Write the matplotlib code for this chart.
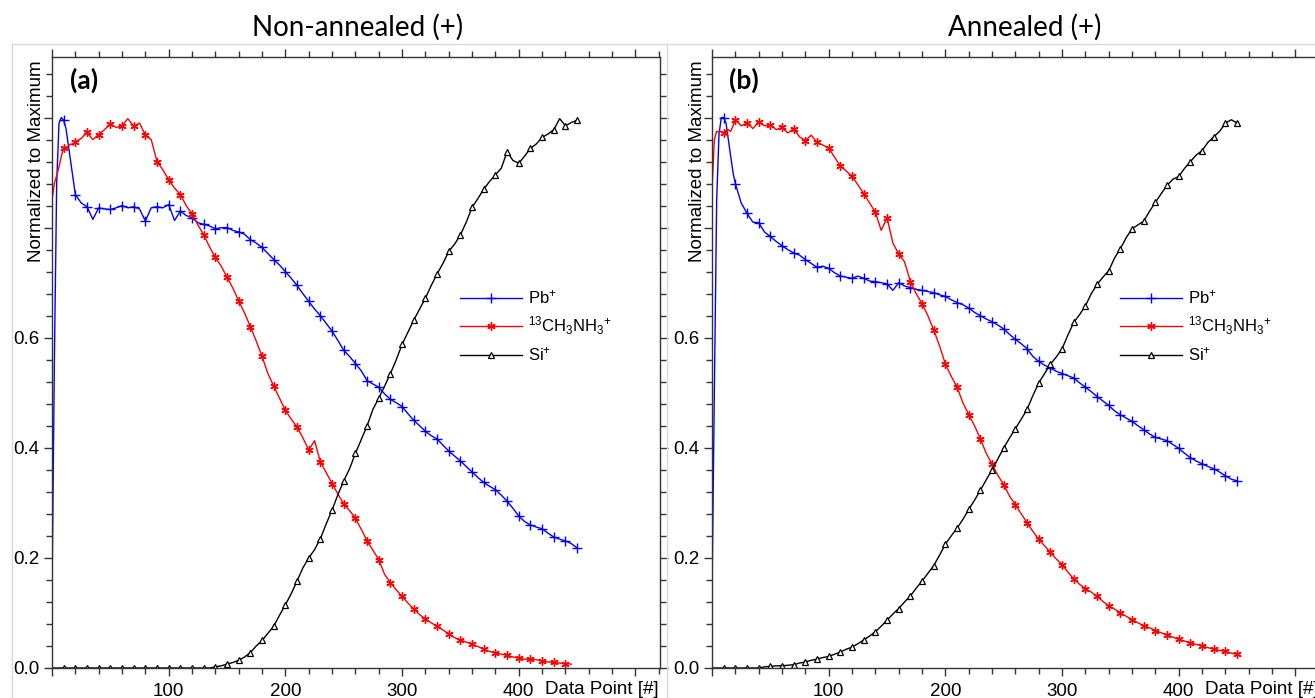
import numpy as np
import matplotlib
matplotlib.use('Agg')
import matplotlib.pyplot as plt
from matplotlib.ticker import MultipleLocator, FuncFormatter
from matplotlib.lines import Line2D

plt.rcParams['font.family'] = ['Liberation Sans', 'DejaVu Sans']
plt.rcParams['mathtext.fontset'] = 'custom'
plt.rcParams['mathtext.rm'] = 'Liberation Sans'
plt.rcParams['mathtext.it'] = 'Liberation Sans:italic'

# data point grid (shared by all series)
data_point = list(range(0, 21, 2)) + list(range(25, 451, 5))

# ---- (a) Non-annealed ----
pb_a = [0.13, 0.55, 0.88, 0.99, 1.0, 0.995, 0.98, 0.95, 0.92, 0.89, 0.86,
        0.845, 0.838, 0.815, 0.836, 0.834, 0.833, 0.836, 0.84, 0.836, 0.838,
        0.834, 0.812, 0.836, 0.838, 0.836, 0.842, 0.813, 0.83, 0.822, 0.818,
        0.809, 0.806, 0.803, 0.798, 0.80, 0.80, 0.795, 0.792, 0.788, 0.778,
        0.772, 0.764, 0.753, 0.742, 0.732, 0.72, 0.708, 0.695, 0.68, 0.666,
        0.652, 0.64, 0.626, 0.612, 0.595, 0.577, 0.566, 0.553, 0.54, 0.522,
        0.516, 0.51, 0.498, 0.488, 0.482, 0.475, 0.462, 0.45, 0.44, 0.43,
        0.422, 0.416, 0.405, 0.394, 0.385, 0.376, 0.366, 0.356, 0.346, 0.337,
        0.33, 0.324, 0.314, 0.303, 0.29, 0.276, 0.266, 0.26, 0.256, 0.253,
        0.245, 0.238, 0.234, 0.231, 0.226, 0.218]
ma_a = [0.85, 0.88, 0.895, 0.91, 0.93, 0.945, 0.942, 0.948, 0.952, 0.95, 0.956,
        0.962, 0.973, 0.96, 0.969, 0.978, 0.988, 0.982, 0.985, 0.998, 0.984,
        0.99, 0.968, 0.96, 0.92, 0.905, 0.887, 0.872, 0.86, 0.84, 0.825,
        0.805, 0.787, 0.765, 0.746, 0.73, 0.71, 0.69, 0.667, 0.645, 0.62,
        0.594, 0.566, 0.535, 0.512, 0.49, 0.468, 0.452, 0.438, 0.418, 0.396,
        0.413, 0.374, 0.355, 0.335, 0.316, 0.298, 0.286, 0.272, 0.252, 0.231,
        0.214, 0.197, 0.17, 0.155, 0.142, 0.13, 0.118, 0.107, 0.097, 0.089,
        0.082, 0.076, 0.069, 0.062, 0.055, 0.051, 0.047, 0.043, 0.039, 0.034,
        0.03, 0.028, 0.025, 0.023, 0.02, 0.018, 0.016, 0.016, 0.015, 0.013,
        0.011, 0.01, 0.009, 0.008, 0.007, np.nan]
si_a = [0.0] * 34 + [
        0.002, 0.004, 0.007, 0.01, 0.014, 0.02, 0.028, 0.04, 0.05, 0.063,
        0.076, 0.096, 0.115, 0.135, 0.158, 0.182, 0.2, 0.215, 0.235, 0.262,
        0.287, 0.315, 0.34, 0.362, 0.39, 0.415, 0.44, 0.47, 0.49, 0.512,
        0.535, 0.56, 0.588, 0.61, 0.632, 0.652, 0.672, 0.695, 0.716, 0.735,
        0.757, 0.77, 0.787, 0.81, 0.837, 0.853, 0.87, 0.884, 0.896, 0.908,
        0.938, 0.922, 0.917, 0.93, 0.944, 0.952, 0.964, 0.97, 0.978, 0.998,
        0.985, 0.991, 0.995]

# ---- (b) Annealed ----
pb_b = [0.13, 0.5, 0.85, 0.97, 1.0, 1.0, 0.99, 0.96, 0.93, 0.9, 0.88,
        0.845, 0.826, 0.81, 0.809, 0.792, 0.784, 0.775, 0.767, 0.76, 0.754,
        0.75, 0.742, 0.735, 0.728, 0.73, 0.726, 0.718, 0.712, 0.71, 0.708,
        0.712, 0.708, 0.703, 0.702, 0.70, 0.698, 0.686, 0.70, 0.694, 0.691,
        0.688, 0.686, 0.684, 0.682, 0.678, 0.675, 0.669, 0.664, 0.66, 0.654,
        0.646, 0.64, 0.634, 0.629, 0.623, 0.616, 0.606, 0.597, 0.589, 0.58,
        0.566, 0.557, 0.55, 0.545, 0.539, 0.535, 0.531, 0.527, 0.518, 0.51,
        0.502, 0.493, 0.485, 0.477, 0.467, 0.46, 0.454, 0.448, 0.44, 0.433,
        0.425, 0.419, 0.416, 0.413, 0.406, 0.399, 0.39, 0.382, 0.376, 0.371,
        0.366, 0.362, 0.356, 0.349, 0.343, 0.34]
ma_b = [0.87, 0.96, 0.975, 0.974, 0.975, 0.972, 0.976, 0.978, 0.975, 0.985, 0.996,
        0.985, 0.99, 0.98, 0.992, 0.985, 0.987, 0.978, 0.982, 0.972, 0.98,
        0.965, 0.958, 0.968, 0.955, 0.95, 0.945, 0.928, 0.912, 0.903, 0.893,
        0.878, 0.862, 0.845, 0.828, 0.795, 0.818, 0.772, 0.752, 0.738, 0.702,
        0.68, 0.662, 0.64, 0.614, 0.585, 0.552, 0.53, 0.51, 0.482, 0.46,
        0.44, 0.416, 0.39, 0.37, 0.35, 0.333, 0.312, 0.297, 0.28, 0.264,
        0.248, 0.234, 0.222, 0.21, 0.198, 0.188, 0.174, 0.162, 0.152, 0.144,
        0.138, 0.13, 0.121, 0.113, 0.107, 0.1, 0.094, 0.088, 0.082, 0.077,
        0.073, 0.068, 0.064, 0.06, 0.056, 0.052, 0.049, 0.045, 0.043, 0.04,
        0.037, 0.034, 0.032, 0.03, 0.027, 0.025]
si_b = [0.0] * 15 + [
        0.002, 0.003, 0.004, 0.004, 0.005, 0.006, 0.009, 0.011, 0.014, 0.016,
        0.019, 0.021, 0.025, 0.029, 0.034, 0.038, 0.044, 0.051, 0.058, 0.066,
        0.076, 0.087, 0.098, 0.108, 0.12, 0.131, 0.145, 0.158, 0.172, 0.186,
        0.205, 0.225, 0.24, 0.254, 0.27, 0.288, 0.305, 0.323, 0.342, 0.36,
        0.38, 0.40, 0.418, 0.435, 0.452, 0.47, 0.495, 0.518, 0.535, 0.552,
        0.565, 0.58, 0.605, 0.628, 0.642, 0.658, 0.68, 0.697, 0.71, 0.722,
        0.745, 0.762, 0.782, 0.798, 0.805, 0.812, 0.83, 0.846, 0.862, 0.877,
        0.888, 0.893, 0.908, 0.92, 0.932, 0.94, 0.955, 0.965, 0.975, 0.99,
        0.996, 0.99]

labels = [r'$\mathrm{Pb^{+}}$', r'$\mathrm{^{13}CH_{3}NH_{3}{}^{+}}$', r'$\mathrm{Si^{+}}$']
titles = ['Non-annealed (+)', 'Annealed (+)']
panel_tags = ['(a)', '(b)']

W, H = 1315, 698
fig = plt.figure(figsize=(W / 100, H / 100), dpi=100)


def px_rect(l, t, r, b):
    return [l / W, 1 - b / H, (r - l) / W, (b - t) / H]


x = np.array(data_point)
marks = [i for i, v in enumerate(data_point) if v >= 10 and v % 10 == 0]
styles = [dict(color='#0000ff', marker='+', ms=7, mew=1.0),
          dict(color='#ff0000', marker=(6, 2, 0), ms=6, mew=1.0),
          dict(color='black', marker='^', ms=5, mew=0.9, mfc='white')]


def draw_panel(rect, series):
    ax = fig.add_axes(rect)
    for y, st, lab in zip(series, styles, labels):
        ax.plot(x, y, lw=1.0, markevery=marks, label=lab, **st)
    ax.set_xlim(0, 521)
    ax.set_ylim(0, 1.11)
    ax.xaxis.set_major_locator(MultipleLocator(100))
    ax.xaxis.set_minor_locator(MultipleLocator(20))
    ax.yaxis.set_major_locator(MultipleLocator(0.2))
    ax.yaxis.set_minor_locator(MultipleLocator(0.04))
    ax.xaxis.set_major_formatter(FuncFormatter(
        lambda v, p: f'{v:.0f}' if 50 < v < 450 else ''))
    ax.yaxis.set_major_formatter(FuncFormatter(
        lambda v, p: f'{v:.1f}' if v < 0.7 else ''))
    ax.tick_params(which='both', direction='out', top=True, right=True,
                   labelsize=13.5, color='#333333')
    ax.tick_params(which='major', length=6, width=1, pad=3)
    ax.tick_params(which='minor', length=4, width=1)
    ax.tick_params(axis='x', which='major', pad=5)
    for sp in ax.spines.values():
        sp.set_color('#333333')
        sp.set_linewidth(1.0)
    ax.legend(loc='upper left', bbox_to_anchor=(0.66, 0.632), frameon=False,
              fontsize=12, handlelength=3.7, handletextpad=0.4,
              labelspacing=0.5, borderaxespad=0)
    return ax


ax_a = draw_panel(px_rect(52, 57, 660, 668), [pb_a, ma_a, si_a])
ax_b = draw_panel(px_rect(712, 57, 1320, 668), [pb_b, ma_b, si_b])

# light grey panel frames
for seg in [([12, 1315], [44, 44]), ([12, 12], [44, 698]), ([667, 667], [44, 698])]:
    fig.add_artist(Line2D([v / W for v in seg[0]], [1 - v / H for v in seg[1]],
                          color='#d9d9d9', lw=1))

for x0, title, tag in zip([0, 660], titles, panel_tags):
    cx = 358 if x0 == 0 else 1025
    fig.text(cx / W, 1 - 27 / H, title, ha='center', va='center',
             fontsize=20, family=['Lato', 'DejaVu Sans'])
    fig.text((x0 + 84) / W, 1 - 80 / H, tag, ha='center', va='center',
             fontsize=19, fontweight='bold', family=['Lato', 'DejaVu Sans'])
    fig.text((x0 + 37) / W, 1 - 60 / H, 'Normalized to Maximum', rotation=90,
             ha='center', va='top', fontsize=13.5)
    fig.text((x0 + 545) / W, 1 - 690 / H, 'Data Point [#]', ha='left',
             va='center', fontsize=13.5)

fig.savefig('out.png', dpi=100)
